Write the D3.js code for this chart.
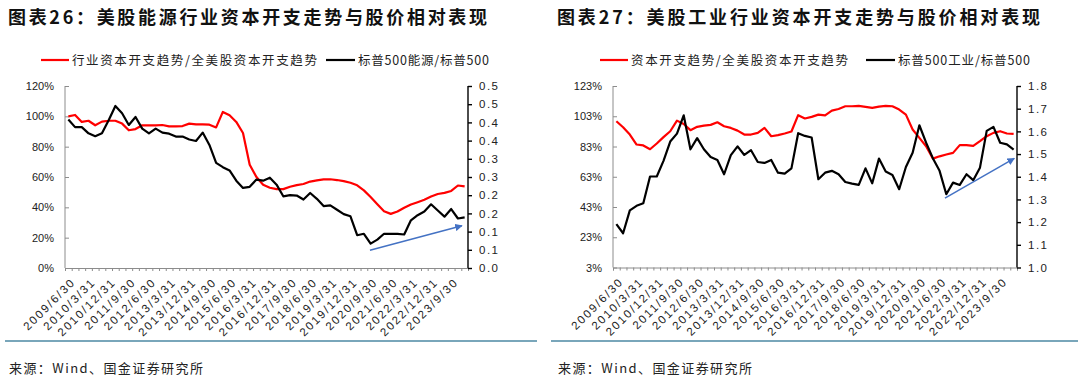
<!DOCTYPE html>
<html><head><meta charset="utf-8">
<script src="https://cdn.jsdelivr.net/npm/d3@7"></script>
<style>
html,body{margin:0;padding:0;background:#fff;}
svg{display:block;}
</style></head>
<body>
<svg id="c" width="1080" height="380"></svg>
<script>
// ---------- data ----------
const categories = [
"2009/6/30","2009/9/30","2009/12/31","2010/3/31","2010/6/30","2010/9/30","2010/12/31","2011/3/31","2011/6/30","2011/9/30",
"2011/12/31","2012/3/31","2012/6/30","2012/9/30","2012/12/31","2013/3/31","2013/6/30","2013/9/30","2013/12/31","2014/3/31",
"2014/6/30","2014/9/30","2014/12/31","2015/3/31","2015/6/30","2015/9/30","2015/12/31","2016/3/31","2016/6/30","2016/9/30",
"2016/12/31","2017/3/31","2017/6/30","2017/9/30","2017/12/31","2018/3/31","2018/6/30","2018/9/30","2018/12/31","2019/3/31",
"2019/6/30","2019/9/30","2019/12/31","2020/3/31","2020/6/30","2020/9/30","2020/12/31","2021/3/31","2021/6/30","2021/9/30",
"2021/12/31","2022/3/31","2022/6/30","2022/9/30","2022/12/31","2023/3/31","2023/6/30","2023/9/30","2023/12/31","2024/3/31"];

// Chart 26 — energy
const energyCapex = [100,100.9,96.3,97.1,94.1,96.5,97.1,97.1,95.2,90.8,
91.6,94.1,94.1,94.1,94.3,93.4,93.4,93.6,95.2,94.7,
94.7,94.5,92.7,102.9,100.7,96.3,89,68.1,60,54.9,
52.9,52,52,53.6,54.6,55.4,57,57.8,58.4,58.5,
58,57.3,56.2,54.5,51.2,46.8,42,37.4,35.7,37.2,
39.7,41.9,43.4,45,47.1,48.8,49.5,50.8,54.4,53.8];
const energyRel = [0.408,0.387,0.387,0.370,0.362,0.370,0.406,0.445,0.425,0.393,
0.415,0.383,0.370,0.383,0.372,0.369,0.361,0.361,0.353,0.349,
0.372,0.338,0.289,0.277,0.268,0.240,0.220,0.223,0.243,0.240,
0.248,0.229,0.197,0.200,0.199,0.188,0.206,0.190,0.170,0.172,
0.160,0.148,0.142,0.090,0.094,0.067,0.078,0.094,0.094,0.094,
0.092,0.131,0.145,0.155,0.175,0.158,0.141,0.162,0.136,0.139];

// Chart 27 — industrials
const indCapex = [99.7,95.7,90.9,84.3,83.7,81.2,85,89.2,93.1,100.1,
97.9,93.8,96,96.8,97.3,99,96.4,95.3,93.5,90.9,
90.9,92,95.3,89.8,90.5,91.6,92.9,103.7,101.5,102.6,
104.1,103.6,106.7,107.8,109.6,109.6,109.8,109.2,108.5,109.4,
109.8,109.6,107.4,104.1,94.2,88.7,83.2,75,76.5,77.7,
78.8,83.9,83.9,83.4,86.5,89.8,92,93.1,91.6,91.3];
const indRel = [1.191,1.151,1.252,1.272,1.283,1.401,1.401,1.47,1.555,1.59,
1.671,1.521,1.57,1.521,1.487,1.474,1.411,1.495,1.534,1.496,
1.517,1.465,1.461,1.474,1.418,1.414,1.437,1.592,1.58,1.573,
1.389,1.418,1.426,1.411,1.377,1.37,1.364,1.437,1.371,1.48,
1.423,1.408,1.345,1.443,1.506,1.627,1.55,1.482,1.426,1.323,
1.374,1.364,1.411,1.385,1.44,1.602,1.62,1.55,1.543,1.52];

// axis ticks
const leftTicks26 = [0,20,40,60,80,100,120];
const rightTicks26 = [0,0.05,0.1,0.15,0.2,0.25,0.3,0.35,0.4,0.45,0.5];
const rightLabels26 = ["0.0","0.1","0.1","0.2","0.2","0.3","0.3","0.4","0.4","0.5","0.5"];
const leftTicks27 = [3,23,43,63,83,103,123];
const rightTicks27 = [1.0,1.1,1.2,1.3,1.4,1.5,1.6,1.7,1.8];
const rightLabels27 = ["1.0","1.1","1.2","1.3","1.4","1.5","1.6","1.7","1.8"];

// annotation arrows: [category index, right-axis value]
const arrow26 = [[44.9,0.049],[58.6,0.116]];
const arrow27 = [[48.8,1.306],[59.1,1.481]];

const titles = ["图表26：美股能源行业资本开支走势与股价相对表现","图表27：美股工业行业资本开支走势与股价相对表现"];
const legend26 = ["行业资本开支趋势/全美股资本开支趋势","标普500能源/标普500"];
const legend27 = ["资本开支趋势/全美股资本开支趋势","标普500工业/标普500"];
const sourceText = "来源：Wind、国金证券研究所";

// ---------- drawing ----------
const svg = d3.select("#c");
const CJK = "'Noto Sans CJK SC','Noto Sans',sans-serif";
const NUM = "'Liberation Sans',Arial,sans-serif";

const defs = svg.append("defs");
defs.append("marker").attr("id","ah").attr("viewBox","0 0 10 10").attr("refX",9).attr("refY",5)
  .attr("markerWidth",5).attr("markerHeight",5).attr("orient","auto")
  .append("path").attr("d","M0,0L10,5L0,10Z").attr("fill","#4472C4");

function panel(o){
  const g = svg.append("g");
  const x0=o.x0, x1=o.x1, yTop=86, yBot=o.yBot;
  const xb = d3.scaleBand().domain(d3.range(categories.length)).range([x0,x1]);
  const bw = xb.bandwidth();
  const xi = d3.scaleLinear().domain([-0.5, categories.length-0.5]).range([x0,x1]);
  const yL = d3.scaleLinear().domain(o.lDom).range([yBot,yTop]);
  const yR = d3.scaleLinear().domain(o.rDom).range([yBot,yTop]);

  // title
  g.append("text").attr("x",o.tx).attr("y",24).text(o.title)
    .attr("font-family",CJK).attr("font-weight",700).attr("font-size",18)
    .attr("fill","#111").attr("textLength",o.tLen).attr("lengthAdjust","spacing");

  // x axis ticks (between categories)
  const xt = d3.scaleLinear().domain([0,categories.length]).range([x0,x1]);
  const gx = g.append("g").attr("transform",`translate(0,${yBot})`)
    .call(d3.axisBottom(xt).tickValues(d3.range(categories.length+1)).tickSize(3).tickFormat(""));
  gx.selectAll("path,line").attr("stroke","#8c8c8c").attr("stroke-width",1);

  // x labels
  const gl = g.append("g").attr("transform",`translate(0,${yBot})`)
    .call(d3.axisBottom(xb).tickValues(d3.range(0,categories.length,3)).tickFormat(i=>categories[i]).tickSize(0).tickPadding(0));
  gl.select(".domain").remove();
  gl.selectAll("text").attr("font-family",NUM).attr("font-size",11.5).attr("fill","#222")
    .attr("letter-spacing","1.9px")
    .attr("text-anchor","end").attr("dy",null).attr("y",null)
    .attr("transform","translate(5,12) rotate(-45)").attr("dy","0.35em");

  // left axis
  const gyl = g.append("g").attr("transform",`translate(${x0},0)`)
    .call(d3.axisLeft(yL).tickValues(o.lTicks).tickFormat(d=>d+"%").tickSize(-4).tickPadding(11));
  gyl.selectAll("path,line").attr("stroke","#8c8c8c");
  gyl.select(".domain").attr("d",`M0,${yTop}V${yBot}`);
  gyl.selectAll("text").attr("font-family",NUM).attr("font-size",11).attr("fill","#222");

  // right axis
  const gyr = g.append("g").attr("transform",`translate(${x1},0)`)
    .call(d3.axisRight(yR).tickValues(o.rTicks).tickFormat((d,i)=>o.rLabels[i]).tickSize(4).tickPadding(7));
  gyr.selectAll("path,line").attr("stroke","#000").attr("stroke-width",1.4);
  gyr.select(".domain").attr("d",`M0,${yTop}V${yBot}`);
  gyr.selectAll("text").attr("font-family",NUM).attr("font-size",11.5).attr("fill","#222").attr("letter-spacing","1.5px");

  // lines
  const lineL = d3.line().x((d,i)=>xb(i)+bw/2).y(d=>yL(d));
  const lineR = d3.line().x((d,i)=>xb(i)+bw/2).y(d=>yR(d));
  g.append("path").datum(o.red).attr("d",lineL).attr("fill","none")
    .attr("stroke","#FF0000").attr("stroke-width",2.2).attr("stroke-linejoin","round");
  g.append("path").datum(o.black).attr("d",lineR).attr("fill","none")
    .attr("stroke","#000").attr("stroke-width",2.2).attr("stroke-linejoin","round");

  // arrow
  g.append("line").attr("x1",xi(o.arrow[0][0])).attr("y1",yR(o.arrow[0][1]))
    .attr("x2",xi(o.arrow[1][0])).attr("y2",yR(o.arrow[1][1]))
    .attr("stroke","#4472C4").attr("stroke-width",1.5).attr("marker-end","url(#ah)");

  // legend
  const ly = 60;
  const lg = g.append("g");
  lg.append("line").attr("x1",o.leg[0]).attr("x2",o.leg[0]+28).attr("y1",ly).attr("y2",ly)
    .attr("stroke","#FF0000").attr("stroke-width",2.2);
  lg.append("text").attr("x",o.leg[0]+31).attr("y",ly+4.5).text(o.legText[0])
    .attr("font-family",CJK).attr("font-size",12.5).attr("fill","#222")
    .attr("textLength",o.legLen[0]).attr("lengthAdjust","spacing");
  lg.append("line").attr("x1",o.leg[1]).attr("x2",o.leg[1]+29).attr("y1",ly).attr("y2",ly)
    .attr("stroke","#000").attr("stroke-width",2.2);
  lg.append("text").attr("x",o.leg[1]+32).attr("y",ly+4.5).text(o.legText[1])
    .attr("font-family",CJK).attr("font-size",12.5).attr("fill","#222")
    .attr("textLength",o.legLen[1]).attr("lengthAdjust","spacing");

  // separator + source
  g.append("line").attr("x1",o.sepX[0]).attr("x2",o.sepX[1]).attr("y1",341).attr("y2",341)
    .attr("stroke","#4d88a3").attr("stroke-width",1.4);
  g.append("text").attr("x",o.tx+1).attr("y",373).text(sourceText)
    .attr("font-family",CJK).attr("font-size",13).attr("fill","#222")
    .attr("textLength",194).attr("lengthAdjust","spacing");
}

panel({x0:65,x1:468,yBot:268,lDom:[0,120],rDom:[0,0.5],lTicks:leftTicks26,rTicks:rightTicks26,rLabels:rightLabels26,
  red:energyCapex,black:energyRel,arrow:arrow26,title:titles[0],tx:8,tLen:479,
  leg:[41,326],legText:legend26,legLen:[245,131],sepX:[5,537]});
panel({x0:613,x1:1017,yBot:267.5,lDom:[3,123],rDom:[1.0,1.8],lTicks:leftTicks27,rTicks:rightTicks27,rLabels:rightLabels27,
  red:indCapex,black:indRel,arrow:arrow27,title:titles[1],tx:557,tLen:483,
  leg:[600,866],legText:legend27,legLen:[217,132],sepX:[551,1078]});
</script>
</body></html>
